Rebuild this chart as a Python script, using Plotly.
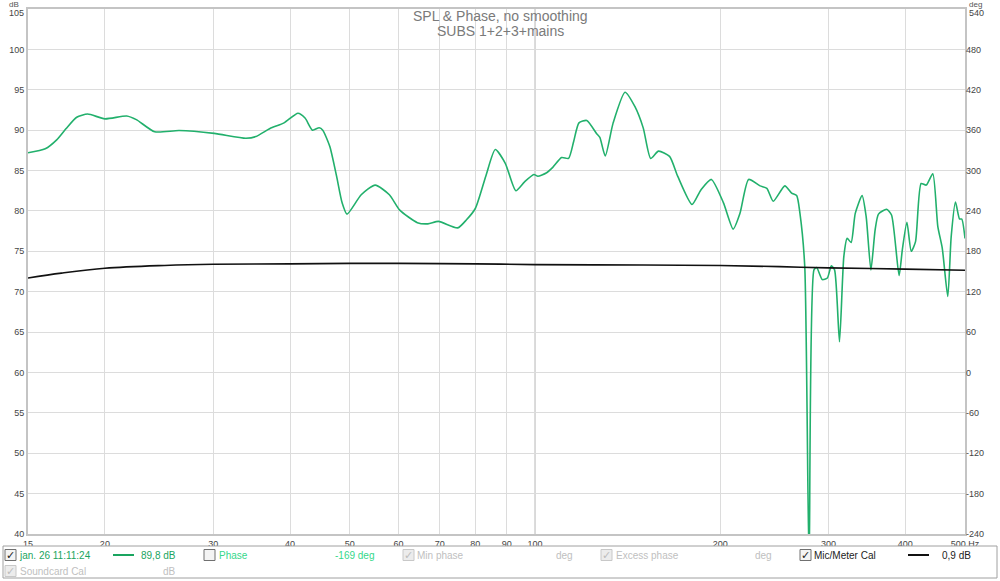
import plotly.graph_objects as go

# ---- data ----
spl_freq = [15.0, 16.0, 16.7, 17.3, 18.0, 18.75, 20.0, 21.7, 22.5, 24.1, 26.4, 30.1, 33.9, 35.2, 37.1,
            39.1, 41.2, 42.3, 43.5, 44.6, 45.2, 46.4, 47.6, 48.6, 49.5, 52.2, 55.0, 58.0, 60.3, 64.4,
            67.0, 69.7, 74.9, 77.4, 80.0, 83.2, 86.2, 89.5, 93.1, 96.2, 99.6, 101.1, 104.3, 106.9,
            110.5, 113.4, 115.6, 117.9, 121.4, 125.9, 127.5, 130.1, 134.0, 140.1, 145.4, 150.0,
            154.2, 158.8, 165.5, 170.6, 180.0, 186.1, 193.5, 202.5, 210.0, 215.4, 222.5, 232.2,
            238.2, 244.0, 254.8, 261.3, 266.3, 269.6, 274.5, 279.0, 284.1, 287.0, 293.1, 298.7,
            303.2, 306.9, 312.6, 317.7, 321.7, 326.5, 331.6, 340.2, 345.4, 351.6, 357.2, 361.7,
            372.9, 379.8, 390.7, 395.5, 402.3, 408.9, 415.5, 424.3, 432.4, 443.2, 451.6, 459.2,
            468.8, 474.8, 482.5, 489.9, 494.0, 500.0]
spl_db = [87.2, 87.7, 88.8, 90.2, 91.6, 92.0, 91.4, 91.75, 91.3, 89.8, 89.95, 89.6, 89.0, 89.2, 90.2,
          90.9, 92.1, 91.5, 90.0, 90.3, 90.0, 88.0, 84.3, 81.0, 79.6, 82.0, 83.2, 82.0, 80.1, 78.55,
          78.4, 78.7, 77.9, 78.9, 80.3, 84.3, 87.6, 85.9, 82.5, 83.6, 84.5, 84.3, 84.7, 85.4,
          86.6, 86.5, 88.6, 90.9, 91.2, 89.6, 89.1, 86.8, 90.9, 94.7, 92.9, 90.25,
          86.5, 87.4, 86.75, 84.3, 80.8, 82.6, 83.9, 81.0, 77.75, 79.7, 83.9, 83.1,
          82.8, 81.2, 83.1, 82.2, 81.9, 79.7, 73.1, 36.0, 72.7, 73.0, 71.5, 71.7,
          73.2, 72.7, 63.8, 74.35, 76.6, 76.1, 79.7, 81.9, 79.3, 72.7, 77.65, 79.6,
          80.2, 79.5, 72.0, 75.2, 78.6, 75.0, 76.2, 83.4, 83.2, 84.6, 78.1, 75.4,
          69.4, 76.8, 81.1, 79.0, 79.0, 76.6]

cal_freq = [15, 17, 20, 25, 30, 40, 50, 60, 80, 100, 150, 200, 250, 300, 400, 500]
cal_db = [71.7, 72.3, 72.9, 73.25, 73.4, 73.45, 73.5, 73.5, 73.45, 73.35, 73.3, 73.25, 73.1, 72.95, 72.8, 72.65]

x_ticks = [15, 20, 30, 40, 50, 60, 70, 80, 90, 100, 200, 300, 400, 500]
x_ticktext = ["15", "20", "30", "40", "50", "60", "70", "80", "90", "100", "200", "300", "400", "500 Hz"]
db_ticks = list(range(40, 106, 5))
deg_ticks = list(range(-240, 541, 60))

title_lines = ["SPL & Phase, no smoothing", "SUBS 1+2+3+mains"]

GREEN = "#22b06c"
FONT = "Liberation Sans, Arial, sans-serif"

W, H = 1000, 581
L, R, T, B = 28, 965, 9, 534


def px(x):
    return (x - L) / (R - L)


def py(y):
    return (B - y) / (B - T)


fig = go.Figure()
fig.add_trace(go.Scatter(x=spl_freq, y=spl_db, mode="lines",
                         line=dict(color=GREEN, width=1.6, shape="spline", smoothing=0.6),
                         hoverinfo="skip", showlegend=False))
fig.add_trace(go.Scatter(x=cal_freq, y=cal_db, mode="lines",
                         line=dict(color="#111111", width=1.6, shape="spline"),
                         hoverinfo="skip", showlegend=False))
# invisible trace for right axis
fig.add_trace(go.Scatter(x=[15, 500], y=[-240, 540], yaxis="y2", mode="markers",
                         marker=dict(opacity=0), hoverinfo="skip", showlegend=False))

shapes = []
annotations = []

# darker 100 Hz gridline
shapes.append(dict(type="line", xref="x", yref="paper", x0=100, x1=100, y0=0, y1=1,
                   line=dict(color="#a8a8a8", width=1), layer="below"))


def text_at(text, x, y, color, size=10, anchor="left", family=FONT):
    annotations.append(dict(text=text, x=px(x), y=py(y), xref="paper", yref="paper", showarrow=False,
                            xanchor=anchor, yanchor="middle", font=dict(family=family, size=size, color=color)))


# titles
text_at(title_lines[0], 500, 16, "#7a7a7a", 14, "center")
text_at(title_lines[1], 500, 31, "#7a7a7a", 14, "center")
# axis unit labels and the top tick labels (nudged down slightly, as in the reference)
text_at("dB", 14, 4, "#555", 8, "center")
text_at("deg", 975, 4, "#555", 8, "center")
text_at(str(db_ticks[-1]), 26, 12.5, "#444", 9, "right")
text_at(str(deg_ticks[-1]), 967, 12.5, "#444", 9, "left")

db_ticktext = [str(v) for v in db_ticks[:-1]] + [""]
deg_ticktext = [str(v) for v in deg_ticks[:-1]] + [""]

# legend panel
shapes.append(dict(type="rect", xref="paper", yref="paper", x0=px(3), x1=px(997), y0=py(546), y1=py(578),
                   line=dict(color="#a0a0a0", width=1), fillcolor="white", layer="above"))


def checkbox(x, y, checked, enabled):
    edge = "#707070" if enabled else "#c8c8c8"
    fill = "#f4f4f4" if enabled else "#ececec"
    shapes.append(dict(type="rect", xref="paper", yref="paper", x0=px(x), x1=px(x + 11),
                       y0=py(y + 5.5), y1=py(y - 5.5), line=dict(color=edge, width=1), fillcolor=fill))
    if checked:
        text_at("✓", x + 5.5, y, "#222" if enabled else "#bdbdbd", 11, "center", "DejaVu Sans")


r1, r2 = 555, 571
checkbox(5, r1, True, True)
text_at("jan. 26 11:11:24", 17, r1, "#1aa560")
shapes.append(dict(type="line", xref="paper", yref="paper", x0=px(113), x1=px(134), y0=py(r1), y1=py(r1),
                   line=dict(color="#1aa560", width=2)))
text_at("89,8 dB", 178, r1, "#1aa560", anchor="right")
checkbox(204, r1, False, True)
text_at("Phase", 217, r1, "#35d88a")
text_at("-169 deg", 376, r1, "#35d88a", anchor="right")
checkbox(403, r1, True, False)
text_at("Min phase", 415, r1, "#c0c0c0")
text_at("deg", 575, r1, "#c0c0c0", anchor="right")
checkbox(601, r1, True, False)
text_at("Excess phase", 614, r1, "#c0c0c0")
text_at("deg", 774, r1, "#c0c0c0", anchor="right")
checkbox(800, r1, True, True)
text_at("Mic/Meter Cal", 812, r1, "#222")
shapes.append(dict(type="line", xref="paper", yref="paper", x0=px(908), x1=px(929), y0=py(r1), y1=py(r1),
                   line=dict(color="#111", width=2)))
text_at("0,9 dB", 973, r1, "#222", anchor="right")
checkbox(5, r2, True, False)
text_at("Soundcard Cal", 18, r2, "#c0c0c0")
text_at("dB", 178, r2, "#c0c0c0", anchor="right")

fig.update_layout(
    width=W, height=H,
    margin=dict(l=L, r=W - R, t=T, b=H - B, pad=0, autoexpand=False),
    paper_bgcolor="white", plot_bgcolor="white",
    showlegend=False,
    xaxis=dict(type="log", range=[1.1760913, 2.69897], tickvals=x_ticks, ticktext=x_ticktext,
               automargin=False,
               showgrid=True, gridcolor="#dcdcdc", gridwidth=1, zeroline=False,
               showline=True, linecolor="#c4c4c4", linewidth=2, mirror=True,
               ticks="", tickfont=dict(family=FONT, size=9, color="#444")),
    yaxis=dict(range=[40, 105], tickvals=db_ticks, ticktext=db_ticktext,
               showgrid=True, gridcolor="#dcdcdc", gridwidth=1,
               automargin=False,
               zeroline=False, showline=True, linecolor="#c4c4c4", linewidth=2, mirror=True,
               ticks="", tickfont=dict(family=FONT, size=9, color="#444")),
    yaxis2=dict(range=[-240, 540], tickvals=deg_ticks, ticktext=deg_ticktext,
                overlaying="y", side="right", showgrid=False,
                automargin=False,
                zeroline=False, showline=False, ticks="",
                tickfont=dict(family=FONT, size=9, color="#444")),
    shapes=shapes, annotations=annotations,
)

fig.write_html("out.html", config={"displayModeBar": False},
               post_script="document.body.style.margin='0';document.body.style.overflow='hidden';")
